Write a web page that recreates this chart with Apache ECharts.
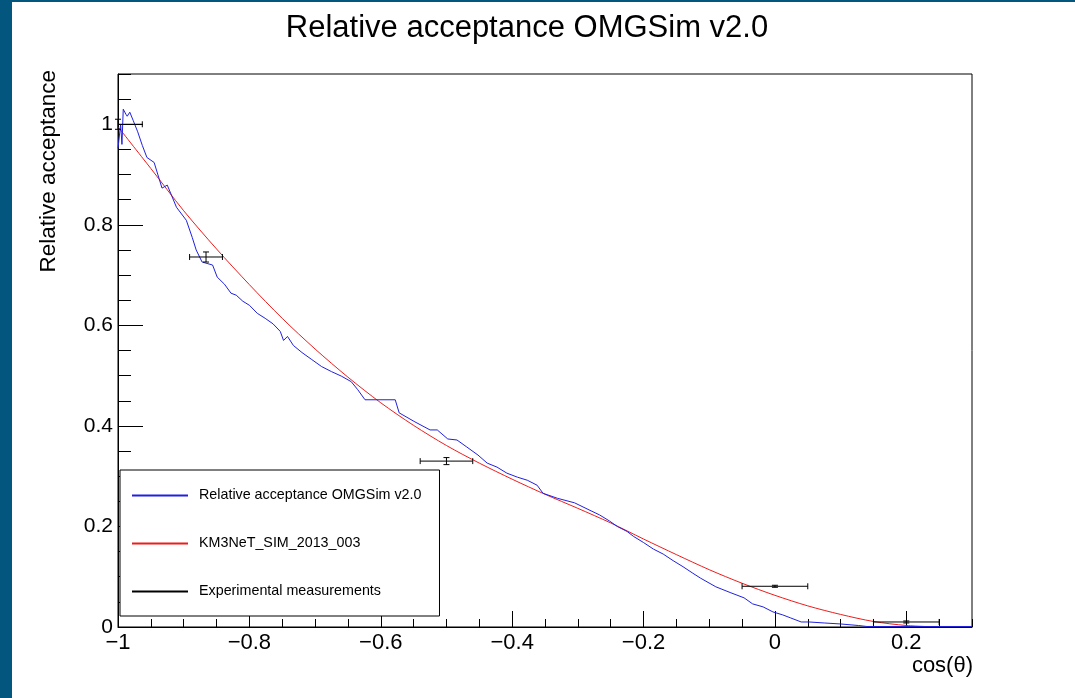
<!DOCTYPE html>
<html>
<head>
<meta charset="utf-8">
<script src="https://cdn.jsdelivr.net/npm/echarts@6/dist/echarts.min.js"></script>
<style>
  html, body { margin: 0; padding: 0; background: #fff; }
  #chart {
    position: absolute; left: 0; top: 0;
    width: 1075px; height: 698px;
    background: #fff;
    box-shadow: inset 12px 2px 0 #03577e;
  }
</style>
</head>
<body>
<div id="chart"></div>
<script>
// Simulated relative acceptance of the optical module (OMGSim v2.0), [cos(theta), acceptance]
const omgSimCurve = [
  [-1.000, 0.952], [-0.997, 0.952], [-0.996, 1.000], [-0.994, 0.960], [-0.992, 1.030],
  [-0.988, 1.020], [-0.986, 1.016], [-0.982, 1.024], [-0.977, 1.008], [-0.970, 0.985],
  [-0.963, 0.958], [-0.956, 0.934], [-0.945, 0.924], [-0.933, 0.873], [-0.925, 0.879],
  [-0.911, 0.835], [-0.896, 0.809], [-0.887, 0.775], [-0.881, 0.750], [-0.872, 0.726],
  [-0.856, 0.720], [-0.849, 0.696], [-0.838, 0.682], [-0.828, 0.664], [-0.820, 0.660],
  [-0.810, 0.648], [-0.800, 0.640], [-0.788, 0.624], [-0.776, 0.614], [-0.764, 0.603],
  [-0.753, 0.588], [-0.748, 0.570], [-0.742, 0.578], [-0.733, 0.560], [-0.720, 0.546],
  [-0.705, 0.532], [-0.690, 0.518], [-0.675, 0.508], [-0.660, 0.499], [-0.645, 0.488],
  [-0.635, 0.472], [-0.624, 0.452], [-0.578, 0.452], [-0.572, 0.426], [-0.548, 0.408],
  [-0.525, 0.392], [-0.514, 0.392], [-0.498, 0.374], [-0.484, 0.372], [-0.469, 0.358],
  [-0.452, 0.342], [-0.438, 0.326], [-0.423, 0.318], [-0.408, 0.306], [-0.392, 0.298],
  [-0.377, 0.292], [-0.362, 0.282], [-0.353, 0.266], [-0.331, 0.256], [-0.305, 0.247],
  [-0.283, 0.233], [-0.267, 0.223], [-0.252, 0.211], [-0.240, 0.200], [-0.225, 0.190],
  [-0.215, 0.180], [-0.200, 0.168], [-0.185, 0.155], [-0.170, 0.145], [-0.155, 0.132],
  [-0.140, 0.120], [-0.125, 0.107], [-0.113, 0.097], [-0.090, 0.080], [-0.067, 0.068],
  [-0.047, 0.058], [-0.034, 0.046], [-0.018, 0.040], [-0.003, 0.030], [0.012, 0.024],
  [0.024, 0.018], [0.040, 0.010], [0.052, 0.010], [0.075, 0.008], [0.100, 0.006],
  [0.127, 0.003], [0.140, 0.001], [0.300, 0.001]
];

// Reference parametrisation KM3NeT_SIM_2013_003
const km3netCurve = [
  [-1.00, 0.995], [-0.95, 0.912], [-0.90, 0.828], [-0.85, 0.752], [-0.80, 0.681],
  [-0.75, 0.614], [-0.70, 0.553], [-0.65, 0.497], [-0.60, 0.446], [-0.55, 0.401],
  [-0.50, 0.361], [-0.45, 0.326], [-0.40, 0.294], [-0.35, 0.264], [-0.30, 0.236],
  [-0.25, 0.207], [-0.20, 0.175], [-0.15, 0.144], [-0.10, 0.114], [-0.05, 0.087],
  [0.00, 0.063], [0.05, 0.042], [0.10, 0.025], [0.15, 0.011], [0.20, 0.003], [0.25, 0.000]
];

// Experimental measurements with errors
const expCosTheta = [-1.000, -0.866, -0.500, 0.000, 0.200];
const expAcceptance = [1.000, 0.736, 0.330, 0.081, 0.010];
const expCosErr = [0.037, 0.025, 0.040, 0.050, 0.050];
const expAccErr = [0.010, 0.010, 0.007, 0.002, 0.002];

// Axis ticks
const xMajorTicks = [-1, -0.8, -0.6, -0.4, -0.2, 0, 0.2];
const xMinorTicks = [-1, -0.95, -0.9, -0.85, -0.8, -0.75, -0.7, -0.65, -0.6, -0.55, -0.5, -0.45,
  -0.4, -0.35, -0.3, -0.25, -0.2, -0.15, -0.1, -0.05, 0, 0.05, 0.1, 0.15, 0.2, 0.25, 0.3];
const yMajorTicks = [0, 0.2, 0.4, 0.6, 0.8, 1];
const yMinorTicks = [0, 0.05, 0.1, 0.15, 0.2, 0.25, 0.3, 0.35, 0.4, 0.45, 0.5, 0.55, 0.6,
  0.65, 0.7, 0.75, 0.8, 0.85, 0.9, 0.95, 1, 1.05, 1.1];

const seriesNames = ['Relative acceptance OMGSim v2.0', 'KM3NeT_SIM_2013_003', 'Experimental measurements'];
const seriesColors = ['#2020e0', '#ee1c1c', '#000000'];

const FONT = '"Liberation Sans", Arial, Helvetica, sans-serif';
const fmt = v => String(v).replace('-', '\u2212');

const expData = expCosTheta.map((x, i) => [x, expAcceptance[i], expCosErr[i], expAccErr[i]]);

// Horizontal and vertical error bars with small end caps, clipped to the frame
function renderErrorBar(params, api) {
  const x = api.value(0), y = api.value(1), ex = api.value(2), ey = api.value(3);
  const cs = params.coordSys;
  const c = api.coord([x, y]);
  const l = api.coord([x - ex, y]);
  const r = api.coord([x + ex, y]);
  const t = api.coord([x, y + ey]);
  const b = api.coord([x, y - ey]);
  const cap = 3;
  const style = { stroke: '#000', lineWidth: 1 };
  const lines = [];
  const left = Math.max(l[0], cs.x);
  const right = Math.min(r[0], cs.x + cs.width);
  lines.push([left, c[1], right, c[1]]);
  if (l[0] >= cs.x) lines.push([l[0], c[1] - cap, l[0], c[1] + cap]);
  if (r[0] <= cs.x + cs.width) lines.push([r[0], c[1] - cap, r[0], c[1] + cap]);
  lines.push([c[0], t[1], c[0], b[1]]);
  lines.push([c[0] - cap, t[1], c[0] + cap, t[1]]);
  lines.push([c[0] - cap, b[1], c[0] + cap, b[1]]);
  return {
    type: 'group',
    children: lines.map(p => ({
      type: 'line',
      shape: { x1: p[0], y1: p[1], x2: p[2], y2: p[3] },
      style: style
    }))
  };
}

const chart = echarts.init(document.getElementById('chart'), null, { renderer: 'canvas' });

const lineAxis = { show: true, onZero: false, lineStyle: { color: '#000', width: 1 } };
const hiddenAxisLine = { show: false, onZero: false };

chart.setOption({
  animation: false,
  textStyle: { fontFamily: FONT },
  grid: {
    left: 118, right: 103, top: 74, bottom: 71,
    show: true, borderColor: '#000', borderWidth: 1, backgroundColor: 'transparent'
  },
  xAxis: [
    {
      type: 'value', min: -1, max: 0.3, position: 'bottom',
      splitLine: { show: false }, axisLine: lineAxis,
      axisTick: { show: true, inside: true, length: 16, customValues: xMajorTicks, lineStyle: { color: '#000' } },
      axisLabel: { show: true, customValues: xMajorTicks, formatter: fmt, color: '#000',
        fontSize: 22, fontFamily: FONT, margin: 5 }
    },
    {
      type: 'value', min: -1, max: 0.3, position: 'bottom',
      splitLine: { show: false }, axisLine: hiddenAxisLine,
      axisTick: { show: true, inside: true, length: 8, customValues: xMinorTicks, lineStyle: { color: '#000' } },
      axisLabel: { show: false }
    }
  ],
  yAxis: [
    {
      type: 'value', min: 0, max: 1.1, position: 'left',
      splitLine: { show: false }, axisLine: lineAxis,
      axisTick: { show: true, inside: true, length: 25, customValues: yMajorTicks, lineStyle: { color: '#000' } },
      axisLabel: { show: true, customValues: yMajorTicks, formatter: fmt, color: '#000',
        fontSize: 21, fontFamily: FONT, margin: 5 }
    },
    {
      type: 'value', min: 0, max: 1.1, position: 'left',
      splitLine: { show: false }, axisLine: hiddenAxisLine,
      axisTick: { show: true, inside: true, length: 13, customValues: yMinorTicks, lineStyle: { color: '#000' } },
      axisLabel: { show: false }
    }
  ],
  legend: {
    orient: 'vertical',
    left: 120, top: 470,
    padding: [18, 18, 17, 12],
    itemGap: 33,
    itemWidth: 56, itemHeight: 2,
    selectedMode: false,
    backgroundColor: '#fff',
    borderColor: '#000', borderWidth: 1, borderRadius: 0,
    itemStyle: { borderWidth: 0 },
    textStyle: { color: '#000', fontSize: 14.3, lineHeight: 15, fontFamily: FONT, padding: [0, 0, 0, 6] },
    data: seriesNames.map((n, i) => ({
      name: n, icon: 'rect',
      itemStyle: { color: seriesColors[i], borderWidth: 0 }
    }))
  },
  graphic: [
    { type: 'text', x: 527, y: 28, z: 10,
      style: { text: 'Relative acceptance OMGSim v2.0', fill: '#000', font: '31px ' + FONT,
        align: 'center', verticalAlign: 'middle', textAlign: 'center', textVerticalAlign: 'middle' } },
    { type: 'text', x: 49, y: 70, rotation: Math.PI / 2, z: 10,
      style: { text: 'Relative acceptance', fill: '#000', font: '22.5px ' + FONT,
        align: 'right', verticalAlign: 'middle', textAlign: 'right', textVerticalAlign: 'middle' } },
    { type: 'text', x: 973, y: 666, z: 10,
      style: { text: 'cos(\u03b8)', fill: '#000', font: '22px ' + FONT,
        align: 'right', verticalAlign: 'middle', textAlign: 'right', textVerticalAlign: 'middle' } }
  ],
  series: [
    {
      name: seriesNames[0], type: 'line', xAxisIndex: 0, yAxisIndex: 0,
      data: omgSimCurve, showSymbol: false, symbol: 'none',
      itemStyle: { color: seriesColors[0] },
      lineStyle: { color: seriesColors[0], width: 1 }, z: 3
    },
    {
      name: seriesNames[1], type: 'line', xAxisIndex: 0, yAxisIndex: 0,
      data: km3netCurve, showSymbol: false, symbol: 'none', smooth: 0.3,
      itemStyle: { color: seriesColors[1] },
      lineStyle: { color: seriesColors[1], width: 1 }, z: 2
    },
    {
      name: seriesNames[2], type: 'custom', xAxisIndex: 0, yAxisIndex: 0,
      data: expData, renderItem: renderErrorBar,
      encode: { x: 0, y: 1 },
      itemStyle: { color: seriesColors[2] }, z: 4
    }
  ]
});
</script>
</body>
</html>
